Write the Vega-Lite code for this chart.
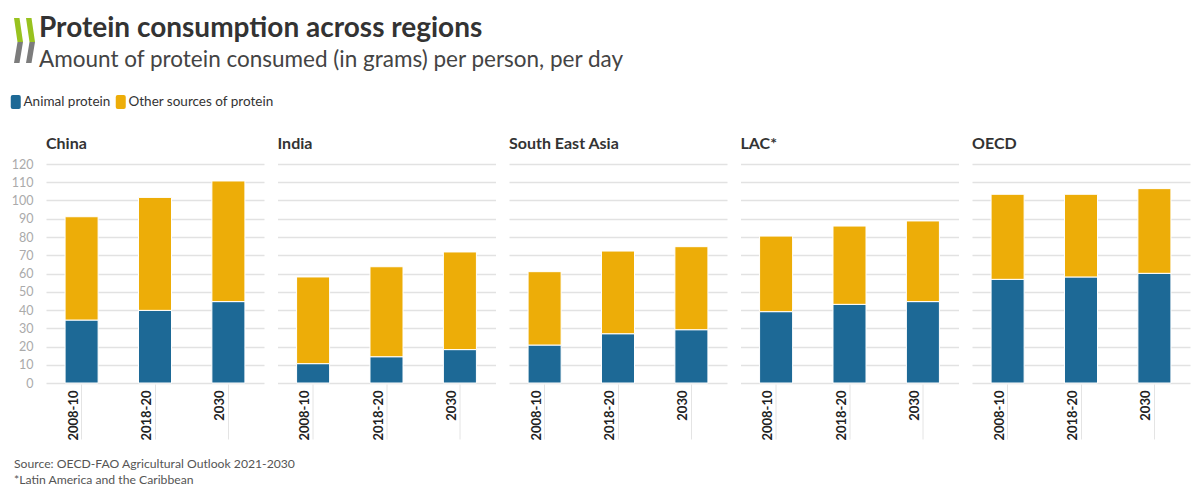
{
  "$schema": "https://vega.github.io/schema/vega-lite/v6.json",
  "padding": {"left": 9, "top": 15, "right": 5, "bottom": 5},
  "background": "white",
  "config": {
    "font": "Lato",
    "view": {"stroke": null}
  },
  "resolve": {"scale": {"color": "independent"}},
  "spacing": -31,
  "hconcat": [
    {
      "width": 31,
      "height": 51,
      "data": {"values": [{"part": "upper"}, {"part": "lower"}]},
      "layer": [
        {
          "transform": [{"filter": "datum.part === 'upper'"}],
          "mark": {
            "type": "point",
            "filled": true,
            "opacity": 1,
            "size": 2304,
            "color": "#98c21f",
            "shape": "M-0.4375,-0.9375L-0.2083,-0.9375L-0.0625,0.0625L-0.2917,0.0625ZM0.0625,-0.9375L0.2917,-0.9375L0.4375,0.0625L0.2083,0.0625Z"
          },
          "encoding": {}
        },
        {
          "transform": [{"filter": "datum.part === 'lower'"}],
          "mark": {
            "type": "point",
            "filled": true,
            "opacity": 1,
            "size": 2304,
            "color": "#7c7c7c",
            "shape": "M-0.2917,0.0625L-0.0625,0.0625L-0.2083,0.9375L-0.4375,0.9375ZM0.2083,0.0625L0.4375,0.0625L0.2917,0.9375L0.0625,0.9375Z"
          },
          "encoding": {}
        }
      ]
    },
    {
      "resolve": {"scale": {"color": "independent"}},
      "spacing": 23,
      "vconcat": [
        {
          "width": 600,
          "height": 1,
          "data": {"values": []},
          "mark": "point",
          "encoding": {},
          "title": {
            "text": "Protein consumption across regions",
            "subtitle": "Amount of protein consumed (in grams) per person, per day",
            "orient": "bottom",
            "anchor": "start",
            "frame": "group",
            "dx": -7,
            "offset": -1,
            "font": "Lato",
            "fontSize": 28,
            "fontWeight": "bold",
            "color": "#333333",
            "subtitleFont": "Lato",
            "subtitleFontSize": 22.5,
            "subtitleColor": "#444444",
            "subtitlePadding": 6
          }
        },
        {
          "data": {
            "values": [
              {"region": "China", "period": "2008-10", "source": "Animal protein", "grams": 34.5},
              {"region": "China", "period": "2008-10", "source": "Other sources of protein", "grams": 56.6},
              {"region": "China", "period": "2018-20", "source": "Animal protein", "grams": 39.8},
              {"region": "China", "period": "2018-20", "source": "Other sources of protein", "grams": 61.9},
              {"region": "China", "period": "2030", "source": "Animal protein", "grams": 44.6},
              {"region": "China", "period": "2030", "source": "Other sources of protein", "grams": 66.1},
              {"region": "India", "period": "2008-10", "source": "Animal protein", "grams": 10.6},
              {"region": "India", "period": "2008-10", "source": "Other sources of protein", "grams": 47.5},
              {"region": "India", "period": "2018-20", "source": "Animal protein", "grams": 14.4},
              {"region": "India", "period": "2018-20", "source": "Other sources of protein", "grams": 49.3},
              {"region": "India", "period": "2030", "source": "Animal protein", "grams": 18.3},
              {"region": "India", "period": "2030", "source": "Other sources of protein", "grams": 53.5},
              {"region": "South East Asia", "period": "2008-10", "source": "Animal protein", "grams": 20.8},
              {"region": "South East Asia", "period": "2008-10", "source": "Other sources of protein", "grams": 40.2},
              {"region": "South East Asia", "period": "2018-20", "source": "Animal protein", "grams": 27.0},
              {"region": "South East Asia", "period": "2018-20", "source": "Other sources of protein", "grams": 45.3},
              {"region": "South East Asia", "period": "2030", "source": "Animal protein", "grams": 29.2},
              {"region": "South East Asia", "period": "2030", "source": "Other sources of protein", "grams": 45.5},
              {"region": "LAC*", "period": "2008-10", "source": "Animal protein", "grams": 39.1},
              {"region": "LAC*", "period": "2008-10", "source": "Other sources of protein", "grams": 41.4},
              {"region": "LAC*", "period": "2018-20", "source": "Animal protein", "grams": 43.1},
              {"region": "LAC*", "period": "2018-20", "source": "Other sources of protein", "grams": 42.9},
              {"region": "LAC*", "period": "2030", "source": "Animal protein", "grams": 44.6},
              {"region": "LAC*", "period": "2030", "source": "Other sources of protein", "grams": 44.2},
              {"region": "OECD", "period": "2008-10", "source": "Animal protein", "grams": 56.8},
              {"region": "OECD", "period": "2008-10", "source": "Other sources of protein", "grams": 46.6},
              {"region": "OECD", "period": "2018-20", "source": "Animal protein", "grams": 58.1},
              {"region": "OECD", "period": "2018-20", "source": "Other sources of protein", "grams": 45.3},
              {"region": "OECD", "period": "2030", "source": "Animal protein", "grams": 60.1},
              {"region": "OECD", "period": "2030", "source": "Other sources of protein", "grams": 46.4}
            ]
          },
          "title": {
            "text": ["Source: OECD-FAO Agricultural Outlook 2021-2030", "*Latin America and the Caribbean"],
            "orient": "bottom",
            "anchor": "start",
            "offset": 18,
            "dx": 5,
            "font": "Lato",
            "fontSize": 12.2,
            "fontWeight": "normal",
            "color": "#555555",
            "lineHeight": 16
          },
          "facet": {
            "column": {
              "field": "region",
              "type": "nominal",
              "sort": ["China", "India", "South East Asia", "LAC*", "OECD"],
              "header": {
                "title": null,
                "labelFont": "Lato",
                "labelFontSize": 16,
                "labelFontWeight": "bold",
                "labelColor": "#333333",
                "labelAnchor": "start",
                "labelAlign": "left",
                "labelPadding": 12
              }
            }
          },
          "spacing": {"column": 13.5},
          "spec": {
            "width": 218,
            "height": 219,
            "mark": {"type": "bar", "stroke": "white", "strokeWidth": 1},
            "encoding": {
              "x": {
                "field": "period",
                "type": "nominal",
                "sort": ["2008-10", "2018-20", "2030"],
                "scale": {"paddingInner": 0.55, "paddingOuter": 0.26},
                "axis": {
                  "title": null,
                  "labelAngle": -90,
                  "labelFont": "Lato",
                  "labelFontSize": 13,
                  "labelFontWeight": "bold",
                  "labelColor": "#222222",
                  "labelBaseline": "alphabetic",
                  "labelOffset": -4,
                  "labelPadding": -49,
                  "tickSize": 55,
                  "tickColor": "#e4e4e4",
                  "tickWidth": 1,
                  "domain": false
                }
              },
              "y": {
                "field": "grams",
                "type": "quantitative",
                "stack": "zero",
                "scale": {"domain": [0, 120]},
                "axis": {
                  "title": null,
                  "values": [0, 10, 20, 30, 40, 50, 60, 70, 80, 90, 100, 110, 120],
                  "labelFont": "Lato",
                  "labelFontSize": 12.5,
                  "labelColor": "#aaaaaa",
                  "labelPadding": 13,
                  "ticks": false,
                  "domain": false,
                  "gridColor": "#e2e2e2",
                  "gridWidth": 1.3
                }
              },
              "order": {"field": "source", "sort": "ascending"},
              "color": {
                "field": "source",
                "type": "nominal",
                "scale": {
                  "domain": ["Animal protein", "Other sources of protein"],
                  "range": ["#1d6996", "#edad08"]
                },
                "legend": {
                  "title": null,
                  "orient": "none",
                  "legendX": -37,
                  "legendY": -69,
                  "direction": "horizontal",
                  "labelFont": "Lato",
                  "labelFontSize": 13.5,
                  "labelColor": "#333333",
                  "labelOffset": 1,
                  "labelLimit": 0,
                  "columnPadding": 3,
                  "symbolType": "M-0.6,-1.4H0.6Q1,-1.4 1,-1V1Q1,1.4 0.6,1.4H-0.6Q-1,1.4 -1,1V-1Q-1,-1.4 -0.6,-1.4Z",
                  "symbolSize": 100,
                  "symbolStrokeWidth": 0,
                  "symbolOpacity": 1
                }
              }
            }
          }
        }
      ]
    }
  ]
}
